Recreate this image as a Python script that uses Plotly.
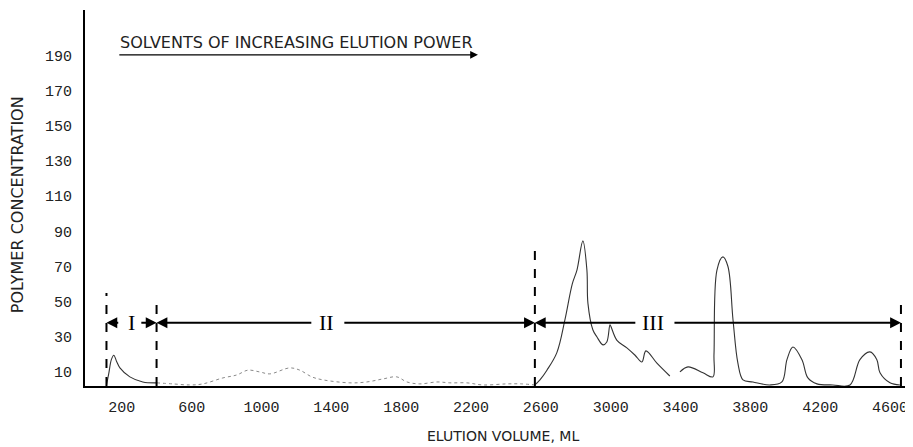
import plotly.graph_objects as go

# ---- data ----
vol_I = [112, 125, 140, 154, 170, 189, 246, 320, 400]
conc_I = [2.5, 9, 17, 19.5, 16, 12.3, 7.2, 4.3, 3.8]

vol_II = [400, 492, 590, 664, 779, 859, 922, 990, 1048, 1162, 1220, 1288, 1352,
          1506, 1603, 1695, 1775, 1833, 1907, 2005, 2079, 2176, 2268, 2405, 2490, 2566]
conc_II = [3.8, 3.2, 2.6, 3.2, 6.6, 8.3, 11, 10, 8.9, 12.3, 11, 7.2, 5.5,
           3.8, 4.3, 6.0, 7.2, 4.3, 3.2, 4.3, 3.8, 3.8, 2.6, 3.2, 3.2, 2.6]

vol_III = [2566, 2595, 2635, 2692, 2738, 2780, 2807, 2841, 2864, 2870, 2898, 2921, 2956,
           2978, 2996, 3001, 3036, 3093, 3140, 3179, 3202, 3265, 3339, None,
           3397, 3443, 3529, 3586, 3592, 3609, 3643, 3672, 3701, 3729, 3758, 3815, 3912,
           3981, 4010, 4044, 4096, 4130, 4182, 4273, 4371, 4428, 4485, 4525, 4543, 4600, 4657]
conc_III = [2.6, 5.5, 11, 21, 39.6, 60, 68, 84.6, 68, 49, 34, 30, 25.4,
            27, 36.8, 36, 28, 23.7, 19.5, 15.7, 22, 15, 7.7, None,
            10, 12.9, 9.5, 7.2, 20, 68, 75.5, 70, 39.6, 15, 5.5, 4.3, 2.6,
            4.3, 17, 24.2, 17, 6.6, 3.2, 2.6, 2.6, 17, 21.4, 17, 9.5, 3.8, 2.6]

x_ticks = [200, 600, 1000, 1400, 1800, 2200, 2600, 3000, 3400, 3800, 4200, 4600]
y_ticks = [10, 30, 50, 70, 90, 110, 130, 150, 170, 190]

boundaries = [112, 399, 2566, 4663]
boundary_tops = [55, 51.5, 80.6, 52]
arrow_y = 38
region_labels = ["I", "II", "III"]
region_label_x = [257, 1374, 3242]
# arrow segments: (from, to) with head at 'to'
arrow_segments = [(188, 112), (303, 399), (1294, 399), (1466, 2566), (3150, 2566), (3357, 4663)]

title_text = "SOLVENTS OF INCREASING ELUTION POWER"
title_x0, title_x1, title_arrow_y, title_y = 177, 2240, 190.5, 197.5

fig = go.Figure()
fig.add_trace(go.Scatter(x=vol_I, y=conc_I, mode="lines",
                         line=dict(color="#333333", width=1.1), line_shape="spline",
                         showlegend=False, hoverinfo="skip"))
fig.add_trace(go.Scatter(x=vol_II, y=conc_II, mode="lines",
                         line=dict(color="#8a8a8a", width=1, dash="dot"), line_shape="spline",
                         showlegend=False, hoverinfo="skip"))
fig.add_trace(go.Scatter(x=vol_III, y=conc_III, mode="lines",
                         line=dict(color="#333333", width=1.1), line_shape="spline",
                         connectgaps=False, showlegend=False, hoverinfo="skip"))

shapes = []
for bx, top in zip(boundaries, boundary_tops):
    shapes.append(dict(type="line", xref="x", yref="y", x0=bx, x1=bx, y0=2, y1=top,
                       line=dict(color="black", width=2, dash="dash")))
fig.update_layout(shapes=shapes)

annotations = []
for a, b in arrow_segments:
    annotations.append(dict(x=b, y=arrow_y, ax=a, ay=arrow_y, xref="x", yref="y",
                            axref="x", ayref="y", text="", showarrow=True,
                            arrowhead=2, arrowsize=1.2, arrowwidth=1.8, arrowcolor="black"))
for lab, lx in zip(region_labels, region_label_x):
    annotations.append(dict(x=lx, y=arrow_y, xref="x", yref="y", text=lab, showarrow=False,
                            font=dict(family="Liberation Serif", size=22, color="black")))
annotations.append(dict(x=title_x1, y=title_arrow_y, ax=title_x0, ay=title_arrow_y,
                        xref="x", yref="y", axref="x", ayref="y", text="", showarrow=True,
                        arrowhead=2, arrowsize=1.2, arrowwidth=1.3, arrowcolor="black"))
annotations.append(dict(x=title_x0, y=title_y, xref="x", yref="y", xanchor="left",
                        text=title_text, showarrow=False,
                        font=dict(family="DejaVu Sans", size=16, color="#222222")))
annotations.append(dict(x=0.505, y=-0.133, xref="paper", yref="paper",
                        xanchor="center", yanchor="middle",
                        text="ELUTION VOLUME, ML", showarrow=False,
                        font=dict(family="DejaVu Sans", size=14, color="#222222")))
annotations.append(dict(x=-0.082, y=0.481, xref="paper", yref="paper", textangle=-90,
                        xanchor="center", yanchor="middle",
                        text="POLYMER CONCENTRATION", showarrow=False,
                        font=dict(family="DejaVu Sans", size=16, color="#222222")))
fig.update_layout(annotations=annotations)

fig.update_xaxes(range=[-11, 4732], tickvals=x_ticks, ticktext=[str(v) for v in x_ticks],
                 showgrid=False, zeroline=False, showline=True, linecolor="black", linewidth=2,
                 ticks="", ticklabelstandoff=6, automargin=False,
                 tickfont=dict(family="Liberation Mono", size=15, color="#222222"))
fig.update_yaxes(range=[2, 216], tickvals=y_ticks, ticktext=[str(v) for v in y_ticks],
                 showgrid=False, zeroline=False, showline=True, linecolor="black", linewidth=2,
                 ticks="", ticklabelstandoff=8, automargin=False,
                 tickfont=dict(family="Liberation Mono", size=15, color="#222222"))

fig.update_layout(width=905, height=439, margin=dict(l=77, r=0, t=2, b=61, autoexpand=False),
                  plot_bgcolor="white", paper_bgcolor="white", showlegend=False)

fig.write_html("out.html")
